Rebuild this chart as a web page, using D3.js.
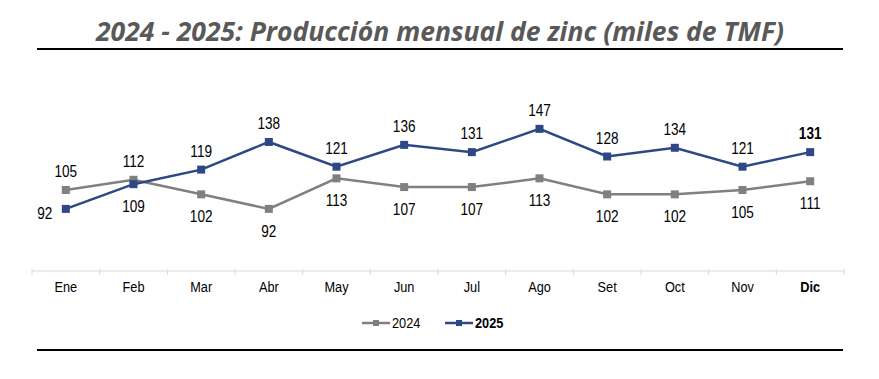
<!DOCTYPE html>
<html><head><meta charset="utf-8">
<script src="https://cdn.jsdelivr.net/npm/d3@7"></script>
<style>body{margin:0;background:#fff}</style>
</head><body><svg id="c" width="879" height="379"></svg>
<script>
const months = ["Ene","Feb","Mar","Abr","May","Jun","Jul","Ago","Set","Oct","Nov","Dic"];
const values2024 = [105,112,102,92,113,107,107,113,102,102,105,111];
const values2025 = [92,109,119,138,121,136,131,147,128,134,121,131];
const seriesNames = ["2024","2025"];
const title = "2024 - 2025: Producción mensual de zinc (miles de TMF)";
// label placement: 1 = above, -1 = below, 0 = left
const pos2024 = [1,1,-1,-1,-1,-1,-1,-1,-1,-1,-1,-1];
const pos2025 = [0,-1,1,1,1,1,1,1,1,1,1,1];

const svg = d3.select("#c");
const colors = {"2024":"#808080","2025":"#2E4785"};
const font = "'Liberation Sans', Arial, sans-serif";
const SX = 0.85;
const tf = (px,py) => `translate(${px},${py}) scale(${SX},1)`;

svg.append("text").attr("x",440).attr("y",41).attr("text-anchor","middle")
  .attr("font-family","Open Sans, sans-serif").attr("font-style","italic").attr("font-weight","bold")
  .attr("font-size",27).attr("fill","#595959").attr("textLength",688).attr("lengthAdjust","spacingAndGlyphs")
  .text(title);
svg.append("line").attr("x1",37).attr("x2",843).attr("y1",49).attr("y2",49).attr("stroke","#000").attr("stroke-width",2);
svg.append("line").attr("x1",37).attr("x2",843).attr("y1",350).attr("y2",350).attr("stroke","#000").attr("stroke-width",2);

const x = d3.scaleBand().domain(months).range([32,844]);
const y = d3.scaleLinear().domain([50,150]).range([270,124.5]);
const cx = m => x(m)+x.bandwidth()/2;

// axis
const ax = svg.append("g");
ax.append("line").attr("x1",32).attr("x2",844).attr("y1",271).attr("y2",271).attr("stroke","#d9d9d9").attr("stroke-width",1);
const bounds = months.map(m=>x(m)).concat([844]);
ax.selectAll(".tk").data(bounds).join("line").attr("x1",d=>d).attr("x2",d=>d).attr("y1",269).attr("y2",275)
  .attr("stroke","#d9d9d9");
ax.selectAll(".lb").data(months).join("text").attr("transform",d=>tf(cx(d),292)).attr("text-anchor","middle")
  .attr("font-family",font).attr("font-size",15).attr("fill","#000")
  .attr("font-weight",(d,i)=>i===11?"bold":"normal").text(d=>d);

const line = d3.line().x((d,i)=>cx(months[i])).y(d=>y(d));
function drawSeries(vals, name, posArr){
  const c = colors[name];
  svg.append("path").datum(vals).attr("d",line).attr("fill","none").attr("stroke",c).attr("stroke-width",2.5);
  svg.selectAll(".m"+name).data(vals).join("rect")
    .attr("x",(d,i)=>cx(months[i])-4).attr("y",d=>y(d)-4).attr("width",8).attr("height",8).attr("fill",c);
  svg.selectAll(".l"+name).data(vals).join("text")
    .attr("transform",(d,i)=>tf(posArr[i]===0 ? cx(months[i])-21 : cx(months[i]),
       posArr[i]===1 ? y(d)-13 : posArr[i]===-1 ? y(d)+28 : y(d)+10))
    .attr("text-anchor","middle").attr("font-family",font).attr("font-size",16).attr("fill","#000")
    .attr("font-weight",(d,i)=>(name==="2025"&&i===11)?"bold":"normal")
    .text(d=>d);
}
drawSeries(values2024,"2024",pos2024);
drawSeries(values2025,"2025",pos2025);

// legend
const lg = [{n:"2024",x:362},{n:"2025",x:445}];
lg.forEach(l=>{
  const c = colors[l.n];
  svg.append("line").attr("x1",l.x).attr("x2",l.x+28).attr("y1",323).attr("y2",323).attr("stroke",c).attr("stroke-width",2.5);
  svg.append("rect").attr("x",l.x+11).attr("y",320).attr("width",6).attr("height",6).attr("fill",c);
  svg.append("text").attr("transform",tf(l.x+30,328)).attr("font-family",font).attr("font-size",15)
    .attr("font-weight",l.n==="2025"?"bold":"normal").attr("fill","#000").text(l.n);
});
</script></body></html>
